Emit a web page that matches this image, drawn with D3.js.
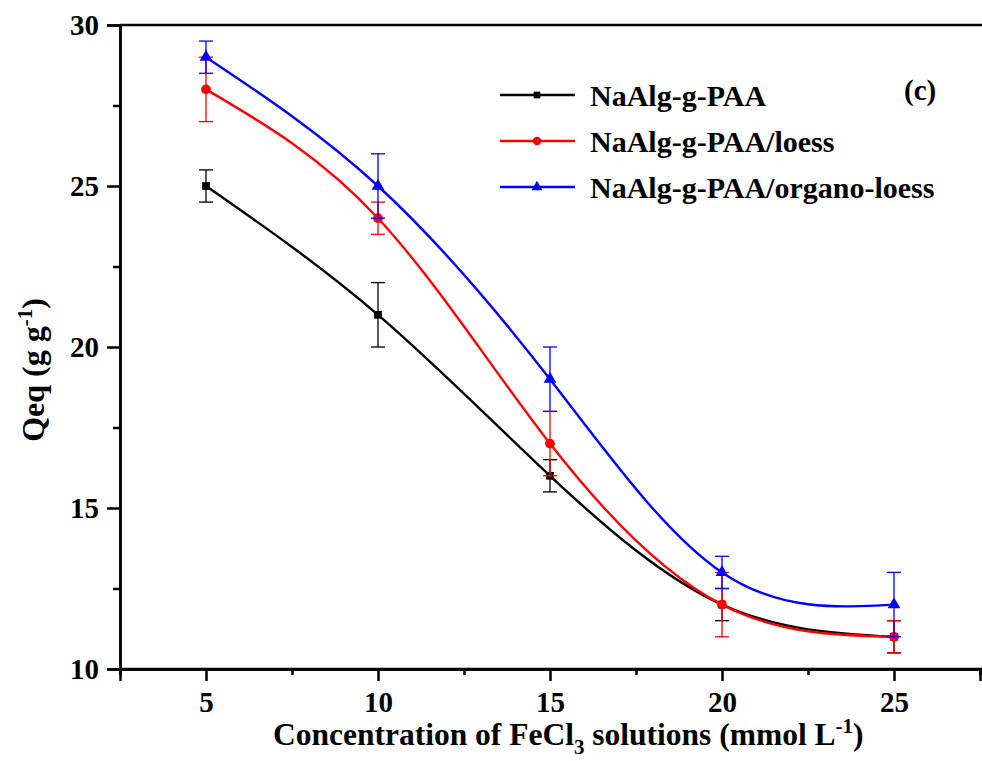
<!DOCTYPE html>
<html>
<head>
<meta charset="utf-8">
<script src="https://cdn.jsdelivr.net/npm/d3@7"></script>
<style>
  body { margin: 0; background: #fff; }
</style>
</head>
<body>
<div id="chart"></div>
<script>
// x values (FeCl3 concentration, mmol/L)
const concentrations = [5, 10, 15, 20, 25];
// series names
const seriesNames = ["NaAlg-g-PAA", "NaAlg-g-PAA/loess", "NaAlg-g-PAA/organo-loess"];
// Qeq values
const qeqPAA = [25, 21, 16, 12, 11];
const qeqLoess = [28, 24, 17, 12, 11];
const qeqOrgano = [29, 25, 19, 13, 12];
// error bars (+/-)
const errPAA = [0.5, 1, 0.5, 0.5, 0.5];
const errLoess = [1, 0.5, 1, 1, 0.5];
const errOrgano = [0.5, 1, 1, 0.5, 1];
// tick labels
const xTicks = [5, 10, 15, 20, 25];
const xMinor = [2.5, 7.5, 12.5, 17.5, 22.5, 27.5];
const yTicks = [10, 15, 20, 25, 30];
const yMinor = [12.5, 17.5, 22.5, 27.5];

const FONT = "'Liberation Serif', 'Times New Roman', Times, serif";
const width = 982, height = 761;
const svg = d3.select("#chart").append("svg")
  .attr("width", width).attr("height", height);

// スケール
const xScale = d3.scaleLinear().domain([2.5, 27.5]).range([120, 980]);
const yScale = d3.scaleLinear().domain([10, 30]).range([669, 25]);

const series = [
  { name: seriesNames[0], values: qeqPAA, err: errPAA, color: "#000000", shape: d3.symbolSquare, size: 60 },
  { name: seriesNames[1], values: qeqLoess, err: errLoess, color: "#ff0000", shape: d3.symbolCircle, size: 75 },
  { name: seriesNames[2], values: qeqOrgano, err: errOrgano, color: "#0000ff", shape: d3.symbolTriangle, size: 70 }
];

// 枠線 (top, bottom)
[30, 10].forEach(v => {
  svg.append("line")
    .attr("x1", xScale(2.5)).attr("x2", width)
    .attr("y1", yScale(v)).attr("y2", yScale(v))
    .attr("stroke", "#000").attr("stroke-width", 2.5);
});

// x軸
svg.append("g").attr("class", "axis axis-x")
  .attr("transform", `translate(0,${yScale(10)})`)
  .call(d3.axisBottom(xScale).tickValues(xTicks).tickSize(12).tickPadding(10).tickFormat(d3.format("d")));
svg.append("g")
  .attr("transform", `translate(0,${yScale(10)})`)
  .call(d3.axisBottom(xScale).tickValues(xMinor).tickSize(6).tickFormat(""));

// y軸
svg.append("g").attr("class", "axis axis-y")
  .attr("transform", `translate(${xScale(2.5)},0)`)
  .call(d3.axisLeft(yScale).tickValues(yTicks).tickSize(13).tickPadding(8).tickFormat(d3.format("d")));
svg.append("g")
  .attr("transform", `translate(${xScale(2.5)},0)`)
  .call(d3.axisLeft(yScale).tickValues(yMinor).tickSize(7).tickFormat(""));

svg.selectAll(".domain, .tick line")
  .attr("stroke", "#000").attr("stroke-width", 2.5);
svg.selectAll(".tick text")
  .attr("fill", "#000")
  .style("font-family", FONT)
  .style("font-weight", "bold")
  .style("font-size", "29px");

// 折れ線
const line = d3.line()
  .x((d, i) => xScale(concentrations[i]))
  .y(d => yScale(d))
  .curve(d3.curveNatural);

series.forEach(s => {
  const g = svg.append("g");
  // エラーバー
  concentrations.forEach((c, i) => {
    const x = xScale(c);
    const yTop = yScale(s.values[i] + s.err[i]);
    const yBot = yScale(s.values[i] - s.err[i]);
    g.append("line").attr("x1", x).attr("x2", x).attr("y1", yTop).attr("y2", yBot)
      .attr("stroke", s.color).attr("stroke-width", 1.3);
    [yTop, yBot].forEach(yy => {
      g.append("line").attr("x1", x - 7).attr("x2", x + 7).attr("y1", yy).attr("y2", yy)
        .attr("stroke", s.color).attr("stroke-width", 1.3);
    });
  });
  g.append("path")
    .datum(s.values)
    .attr("fill", "none")
    .attr("stroke", s.color)
    .attr("stroke-width", 2.4)
    .attr("d", line);
  g.selectAll(".pt").data(s.values).enter().append("path")
    .attr("transform", (d, i) => `translate(${xScale(concentrations[i])},${yScale(d)})`)
    .attr("d", d3.symbol().type(s.shape).size(s.size))
    .attr("fill", s.color);
});

function txt(sel) {
  return sel.style("font-family", FONT).style("font-weight", "bold").attr("fill", "#000");
}

// 凡例
series.forEach((s, i) => {
  const y = 95 + i * 46;
  svg.append("line").attr("x1", 500).attr("x2", 575).attr("y1", y).attr("y2", y)
    .attr("stroke", s.color).attr("stroke-width", 2.4);
  svg.append("path")
    .attr("transform", `translate(537,${y})`)
    .attr("d", d3.symbol().type(s.shape).size(s.size * 0.75))
    .attr("fill", s.color);
  txt(svg.append("text")).attr("x", 590).attr("y", y + 11)
    .style("font-size", "30px").text(s.name);
});

txt(svg.append("text")).attr("x", 904).attr("y", 100)
  .style("font-size", "29px").text("(c)");

// 軸タイトル
const xt = txt(svg.append("text")).attr("x", 273).attr("y", 745).style("font-size", "31.5px");
xt.append("tspan").text("Concentration of FeCl");
xt.append("tspan").attr("dy", 9).style("font-size", "21px").text("3");
xt.append("tspan").attr("dy", -9).text(" solutions (mmol L");
xt.append("tspan").attr("dy", -12).style("font-size", "21px").text("-1");
xt.append("tspan").attr("dy", 12).text(")");

const yt = txt(svg.append("text"))
  .attr("transform", "translate(44,370) rotate(-90)")
  .attr("text-anchor", "middle")
  .style("font-size", "32px");
yt.append("tspan").text("Qeq (g g");
yt.append("tspan").attr("dy", -12).style("font-size", "21px").text("-1");
yt.append("tspan").attr("dy", 12).text(")");
</script>
</body>
</html>
